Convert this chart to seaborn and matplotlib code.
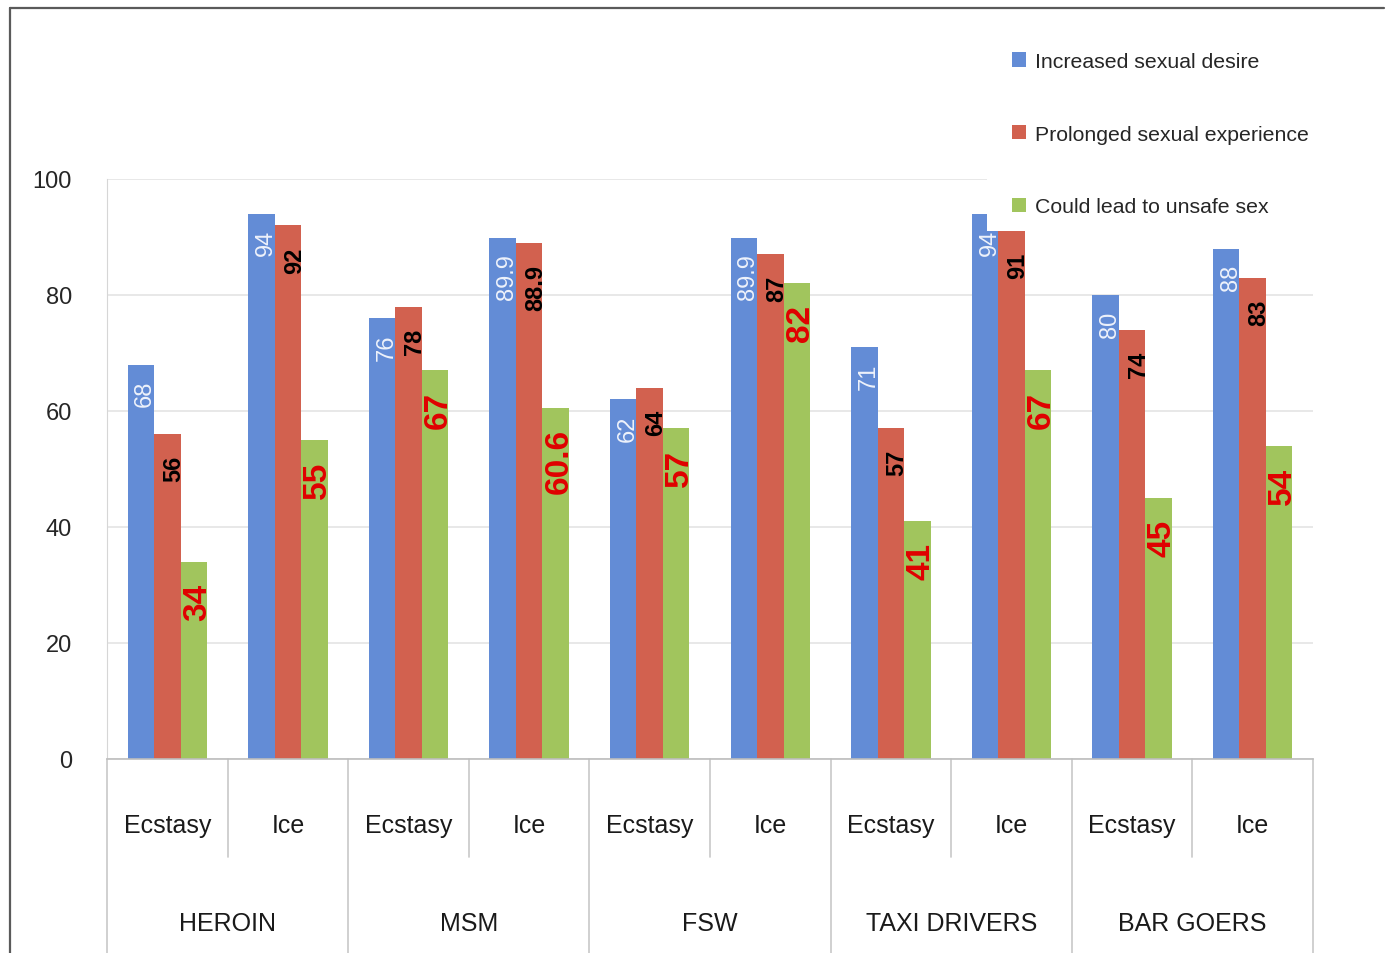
import numpy as np
import pandas as pd
import seaborn as sns
import matplotlib.pyplot as plt
from matplotlib.patches import Patch, Rectangle
from matplotlib.lines import Line2D
from matplotlib.transforms import blended_transform_factory

# ---- data ----
populations = ["HEROIN", "MSM", "FSW", "TAXI DRIVERS", "BAR GOERS"]
drugs = ["Ecstasy", "Ice"]
series_names = ["Increased sexual desire", "Prolonged sexual experience",
                "Could lead to unsafe sex"]
increased_desire = [68, 94, 76, 89.9, 62, 89.9, 71, 94, 80, 88]
prolonged_experience = [56, 92, 78, 88.9, 64, 87, 57, 91, 74, 83]
unsafe_sex = [34, 55, 67, 60.6, 57, 82, 41, 67, 45, 54]
y_ticks = [0, 20, 40, 60, 80, 100]

colors = ["#638CD6", "#D2614F", "#A1C55D"]

slots = [f"{p}|{d}" for p in populations for d in drugs]
all_values = [increased_desire, prolonged_experience, unsafe_sex]
df = pd.DataFrame({
    "slot": slots * 3,
    "series": np.repeat(series_names, len(slots)),
    "value": increased_desire + prolonged_experience + unsafe_sex,
})

sns.set_style("white")
plt.rcParams["font.family"] = ["Liberation Sans", "DejaVu Sans"]

W, H = 1392, 954
fig = plt.figure(figsize=(W / 100, H / 100), dpi=100)
x0, x1, y0, y1 = 107, 1313, 760, 180
ax = fig.add_axes([x0 / W, 1 - y0 / H, (x1 - x0) / W, (y0 - y1) / H])

sns.barplot(data=df, x="slot", y="value", hue="series", order=slots,
            hue_order=series_names, palette=colors, width=0.66, gap=0,
            saturation=1, errorbar=None, legend=False, linewidth=0, ax=ax)

ax.set_xlim(-0.5, len(slots) - 0.5)
ax.set_ylim(0, 100)
ax.set_yticks(y_ticks)
ax.set_yticklabels([str(t) for t in y_ticks], fontsize=17, color="#262626")
ax.tick_params(axis="y", length=7.2, width=1, color="#CFCFCF", pad=18)
ax.set_xticks([])
ax.set_xlabel("")
ax.set_ylabel("")
ax.yaxis.grid(True, color="#E4E4E4", linewidth=1.2)
ax.set_axisbelow(True)
for side in ["top", "right"]:
    ax.spines[side].set_visible(False)
ax.spines["left"].set_color("#D6D6D6")
ax.spines["bottom"].set_color("#BDBDBD")
ax.spines["bottom"].set_linewidth(1.2)

# ---- value labels inside the bars ----
label_styles = [
    dict(color="#EEF2FB", fontsize=17, fontweight="normal", dx=3.2, dy=-11),
    dict(color="black", fontsize=17, fontweight="bold", dx=4.5, dy=-15),
    dict(color="#E00000", fontsize=24, fontweight="bold", dx=2.5, dy=-15),
]
for container, vals, st in zip(ax.containers, all_values, label_styles):
    for bar, v in zip(container, vals):
        ax.annotate(f"{v:g}",
                    xy=(bar.get_x() + bar.get_width() / 2, v),
                    xytext=(st["dx"], st["dy"]), textcoords="offset points",
                    rotation=90, ha="center", va="top",
                    color=st["color"], fontsize=st["fontsize"],
                    fontweight=st["fontweight"], zorder=5)

# ---- two-level category axis ----
trans = blended_transform_factory(ax.transData, ax.transAxes)
drug_y = (y0 - 826) / (y0 - y1)
group_y = (y0 - 924) / (y0 - y1)
sep_short = (y0 - 858) / (y0 - y1)
sep_long = (y0 - 960) / (y0 - y1)
for i, s in enumerate(slots):
    ax.text(i, drug_y, s.split("|")[1], transform=trans, ha="center",
            va="center", fontsize=18, color="#1A1A1A")
for g, pop in enumerate(populations):
    ax.text(2 * g + 0.5, group_y, pop, transform=trans, ha="center",
            va="center", fontsize=18, color="#1A1A1A")
for b in range(len(slots) + 1):
    bx = b - 0.5
    bottom = sep_long if b % 2 == 0 else sep_short
    ax.add_line(Line2D([bx, bx], [0, bottom], transform=trans, color="#C8C8C8",
                       linewidth=1.2, clip_on=False))

# ---- legend on a white panel ----
fig.patches.append(Rectangle((987 / W, 1 - 232 / H), (1320 - 987) / W,
                             (232 - 20) / H, transform=fig.transFigure,
                             facecolor="white", edgecolor="none", zorder=3))
handles = [Patch(facecolor=c, edgecolor="none") for c in colors]
leg = fig.legend(handles, series_names, loc="upper left",
                 bbox_to_anchor=(1012 / W, 1 - 53 / H), frameon=False,
                 fontsize=15.3, handlelength=0.65, handleheight=0.65,
                 handletextpad=0.45, labelspacing=2.52, borderpad=0,
                 borderaxespad=0)
leg.set_zorder(4)
for t in leg.get_texts():
    t.set_color("#262626")

# ---- outer frame ----
fig.add_artist(Line2D([10 / W, 1384 / W], [1 - 9 / H, 1 - 9 / H],
                      transform=fig.transFigure, color="#5A5A5A", linewidth=1.6))
fig.add_artist(Line2D([10 / W, 10 / W], [1 - 9 / H, 0],
                      transform=fig.transFigure, color="#5A5A5A", linewidth=1.6))

fig.savefig("out.png", dpi=100, facecolor="white")
